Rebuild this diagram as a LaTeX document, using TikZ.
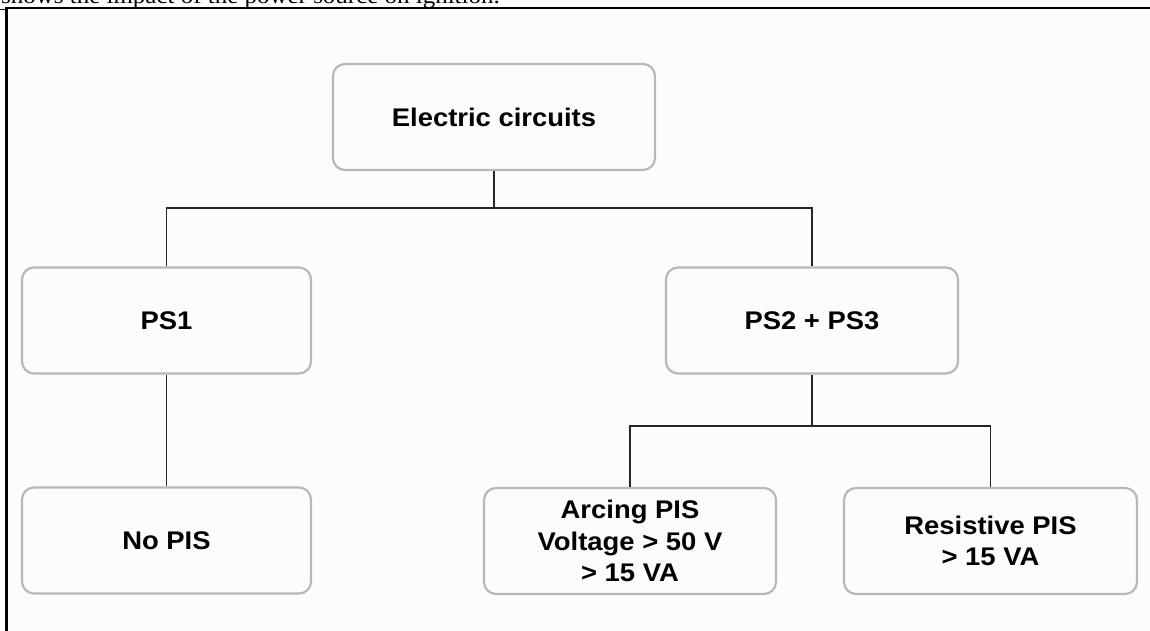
\documentclass[tikz,border=0pt]{standalone}
\usepackage{fontspec}
\setmainfont{Liberation Sans}
\newfontfamily\boxfont[FakeStretch=1.075]{Liberation Sans Bold}
\newfontfamily\capfont[FakeStretch=1.1]{Liberation Serif}
\definecolor{boxline}{gray}{0.72}
\definecolor{bgcol}{gray}{0.99}
\begin{document}
\begin{tikzpicture}[x=1pt,y=-1pt,
  box/.style={draw=boxline, line width=2.2pt, rounded corners=12pt, fill=bgcol,
    minimum height=106pt, inner sep=2pt, align=center,
    font=\boxfont\fontsize{25.5}{31.7}\selectfont},
  conn/.style={draw=black!85, line width=1.3pt},
  frame/.style={draw=black, line width=2.6pt}]
\useasboundingbox (0,0) rectangle (1150,631);
\fill[bgcol] (0,0) rectangle (1150,631);
% caption fragment cut off at top
\node[anchor=base west, inner sep=0pt, font=\capfont\fontsize{22.7}{26}\selectfont] (cap) at (1,3.2) {shows the impact of the power source on ignition.};
% frame
\coordinate (ftl) at (6.5,8);
\coordinate (fbl) at (6.5,632);
\coordinate (ftr) at (1151,8);
\draw[frame] (fbl) -- (ftl) -- (ftr);
\coordinate (tk1) at (0,9.5);
\coordinate (tk2) at (6,9.5);
\draw[line width=1pt] (tk1) -- (tk2);
% boxes
\node[box, minimum width=322pt] (ec) at (494,117) {Electric circuits};
\node[box, minimum width=289pt] (ps1) at (166.5,320.5) {PS1};
\node[box, minimum width=292pt] (ps23) at (812,320.5) {PS2 + PS3};
\node[box, minimum width=289pt] (nopis) at (166.5,540.5) {No PIS};
\node[box, minimum width=292pt] (arc) at (630,541) {Arcing PIS\\Voltage > 50 V\\> 15 VA};
\node[box, minimum width=293pt] (res) at (990.5,541) {Resistive PIS\\> 15 VA};
% connectors
\coordinate (j1) at (494,208);
\coordinate (j2) at (812,426);
\draw[conn] (ec.south) -- (j1);
\draw[conn] (ps1.north) |- (j1) -| (ps23.north);
\draw[conn] (ps1.south) -- (nopis.north);
\draw[conn] (ps23.south) -- (j2);
\draw[conn] (arc.north) |- (j2) -| (res.north);
\end{tikzpicture}
\end{document}
